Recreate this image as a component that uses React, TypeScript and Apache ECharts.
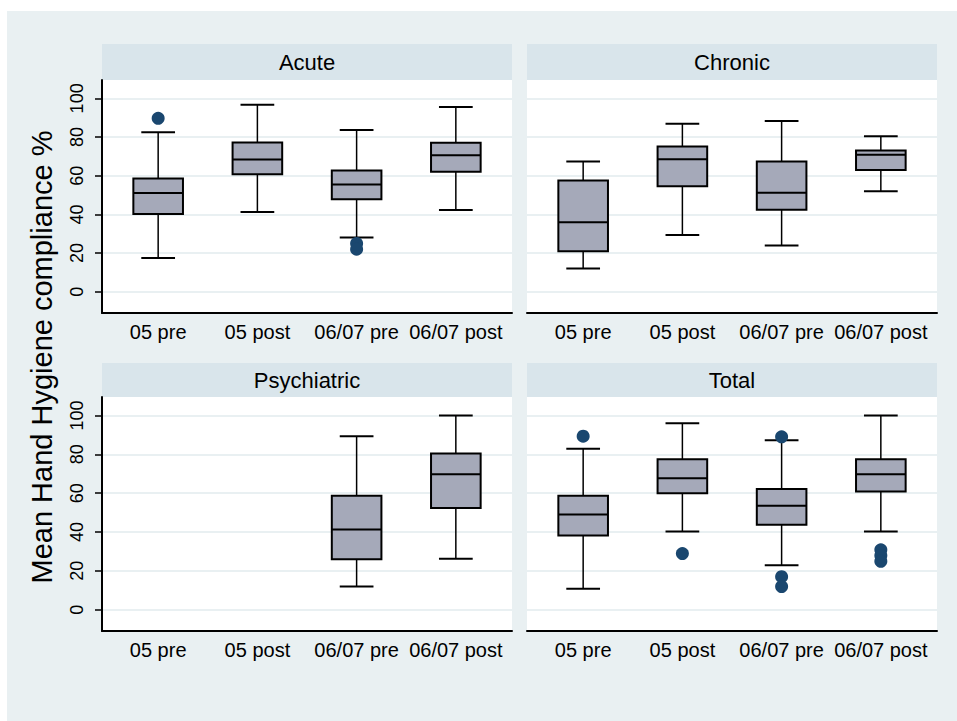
import React, { useEffect, useRef } from 'react';
import * as echarts from 'echarts';

const categories = ['05 pre', '05 post', '06/07 pre', '06/07 post'];
const panelTitles = ['Acute', 'Chronic', 'Psychiatric', 'Total'];
const yTicks = [0, 20, 40, 60, 80, 100];
const yAxisTitle = 'Mean Hand Hygiene compliance %';

// box stats per category: [min, Q1, median, Q3, max] (null = no data)
const acuteStats = [
  [17.4, 40.2, 51.0, 58.6, 82.5],
  [41.2, 60.8, 68.4, 77.2, 96.7],
  [28.0, 47.8, 55.5, 62.7, 83.7],
  [42.3, 62.0, 70.6, 77.0, 95.5],
];
const chronicStats = [
  [12.0, 20.9, 35.9, 57.5, 67.3],
  [29.4, 54.6, 68.5, 75.1, 86.9],
  [23.9, 42.4, 51.2, 67.3, 88.3],
  [52.0, 63.0, 70.8, 73.0, 80.4],
];
const psychStats = [
  null,
  null,
  [11.9, 26.0, 41.3, 58.7, 89.3],
  [26.2, 52.3, 69.7, 80.4, 100.0],
];
const totalStats = [
  [10.8, 38.2, 49.0, 58.7, 82.8],
  [40.3, 59.9, 67.6, 77.4, 96.0],
  [22.9, 43.7, 53.5, 62.1, 87.2],
  [40.3, 60.9, 69.7, 77.4, 100.0],
];

// outliers: [category, value]
const acuteOutliers = [['05 pre', 89.7], ['06/07 pre', 25.0], ['06/07 pre', 22.0]];
const chronicOutliers: any[] = [];
const psychOutliers: any[] = [];
const totalOutliers = [
  ['05 pre', 89.3],
  ['05 post', 28.9],
  ['06/07 pre', 89.0],
  ['06/07 pre', 17.0],
  ['06/07 pre', 11.9],
  ['06/07 post', 30.8],
  ['06/07 post', 27.9],
  ['06/07 post', 24.9],
];

const panelStats = [acuteStats, chronicStats, psychStats, totalStats];
const panelOutliers = [acuteOutliers, chronicOutliers, psychOutliers, totalOutliers];

const grids = [
  { left: 102, top: 80, width: 410, height: 233, headerTop: 44 },
  { left: 527, top: 80, width: 410, height: 233, headerTop: 44 },
  { left: 102, top: 397, width: 410, height: 234, headerTop: 363 },
  { left: 527, top: 397, width: 410, height: 234, headerTop: 363 },
];

const FONT = 'Liberation Sans, Arial, Helvetica, sans-serif';
const BG = '#e9f0f2';
const HEADER = '#d9e5eb';
const BOX_FILL = '#a5a9b9';
const OUTLIER = '#1a476f';

function renderBox(params: any, api: any) {
  const x = api.value(0);
  const pt = (v: number) => api.coord([x, v]);
  const [cx, yMin] = pt(api.value(1));
  const yQ1 = pt(api.value(2))[1];
  const yMed = pt(api.value(3))[1];
  const yQ3 = pt(api.value(4))[1];
  const yMax = pt(api.value(5))[1];
  const unit = api.size([1, 0])[0];
  const bw = unit * 0.5;
  const cw = unit * 0.34;
  const thin = { stroke: '#000', lineWidth: 1.5 };
  const thick = { stroke: '#000', lineWidth: 2 };
  return {
    type: 'group',
    children: [
      { type: 'line', shape: { x1: cx, y1: yMax, x2: cx, y2: yQ3 }, style: thin },
      { type: 'line', shape: { x1: cx, y1: yQ1, x2: cx, y2: yMin }, style: thin },
      { type: 'line', shape: { x1: cx - cw / 2, y1: yMax, x2: cx + cw / 2, y2: yMax }, style: thick },
      { type: 'line', shape: { x1: cx - cw / 2, y1: yMin, x2: cx + cw / 2, y2: yMin }, style: thick },
      {
        type: 'rect',
        shape: { x: cx - bw / 2, y: yQ3, width: bw, height: yQ1 - yQ3 },
        style: { fill: BOX_FILL, stroke: '#000', lineWidth: 2 },
      },
      { type: 'line', shape: { x1: cx - bw / 2, y1: yMed, x2: cx + bw / 2, y2: yMed }, style: thick },
    ],
  };
}

export default function App() {
  const ref = useRef<HTMLDivElement>(null);
  useEffect(() => {
    if (!ref.current) return;
    const chart = echarts.init(ref.current, null, { renderer: 'svg' });

    const xAxis = grids.map((_, i) => ({
      type: 'value',
      gridIndex: i,
      min: 0.434,
      max: 4.566,
      splitLine: { show: false },
      axisTick: { show: false },
      axisLine: { show: true, onZero: false, lineStyle: { color: '#000', width: 2 } },
      axisLabel: {
        customValues: [1, 2, 3, 4],
        formatter: (v: number) => categories[Math.round(v) - 1] ?? '',
        fontSize: 20,
        fontFamily: FONT,
        color: '#000',
        margin: 9,
      },
    }));

    const yAxis = grids.map((_, i) => {
      const left = i % 2 === 0;
      return {
        type: 'value',
        gridIndex: i,
        min: -11,
        max: 109.5,
        axisLine: { show: left, onZero: false, lineStyle: { color: '#000', width: 2 } },
        axisTick: {
          show: left,
          length: 7,
          customValues: yTicks,
          lineStyle: { color: '#000', width: 1.5 },
        },
        axisLabel: {
          show: left,
          customValues: yTicks,
          rotate: 90,
          fontSize: 18,
          fontFamily: FONT,
          color: '#000',
          margin: 16,
        },
        splitLine: { show: true, lineStyle: { color: BG, width: 2 } },
      };
    });

    const series: any[] = [];
    grids.forEach((_, i) => {
      const boxData: any[] = [];
      panelStats[i].forEach((s, ci) => {
        if (s) boxData.push([ci + 1, ...s]);
      });
      series.push({
        type: 'custom',
        xAxisIndex: i,
        yAxisIndex: i,
        renderItem: renderBox,
        encode: { x: 0, y: [1, 2, 3, 4, 5] },
        data: boxData,
        z: 3,
      });
      series.push({
        type: 'scatter',
        xAxisIndex: i,
        yAxisIndex: i,
        symbolSize: 13,
        itemStyle: { color: OUTLIER, opacity: 1 },
        data: panelOutliers[i].map((o: any) => [categories.indexOf(o[0]) + 1, o[1]]),
        z: 4,
      });
    });

    const graphic: any[] = [
      {
        type: 'rect',
        z: -10,
        silent: true,
        shape: { x: 7, y: 11, width: 950, height: 710 },
        style: { fill: BG },
      },
    ];
    grids.forEach((g, i) => {
      const h = g.top - g.headerTop;
      graphic.push({
        type: 'rect',
        z: -5,
        silent: true,
        shape: { x: g.left, y: g.headerTop, width: g.width, height: h },
        style: { fill: HEADER },
      });
      graphic.push({
        type: 'text',
        z: 5,
        silent: true,
        x: g.left + g.width / 2,
        y: g.headerTop + h / 2,
        style: {
          text: panelTitles[i],
          fontSize: 22,
          fontFamily: FONT,
          fill: '#000',
          align: 'center',
          verticalAlign: 'middle',
          textAlign: 'center',
          textVerticalAlign: 'middle',
        },
      });
    });
    graphic.push({
      type: 'text',
      silent: true,
      x: 42,
      y: 357,
      rotation: Math.PI / 2,
      style: {
        text: yAxisTitle,
        fontSize: 29,
        fontFamily: FONT,
        fill: '#000',
        align: 'center',
        verticalAlign: 'middle',
        textAlign: 'center',
        textVerticalAlign: 'middle',
      },
    });

    chart.setOption({
      animation: false,
      backgroundColor: '#fff',
      grid: grids.map((g) => ({
        left: g.left,
        top: g.top,
        width: g.width,
        height: g.height,
        show: true,
        backgroundColor: '#fff',
        borderWidth: 0,
      })),
      xAxis,
      yAxis,
      series,
      graphic,
    });
    return () => chart.dispose();
  }, []);
  return (
    <div
      ref={ref}
      style={{ position: 'fixed', left: 0, top: 0, width: 957, height: 721 }}
    />
  );
}
